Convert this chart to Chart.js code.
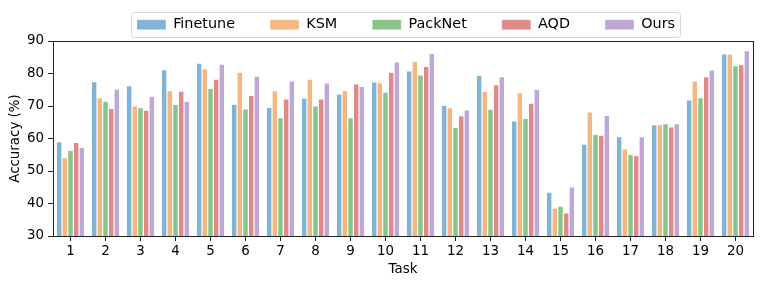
<!DOCTYPE html>
<html>
<head>
<meta charset="utf-8">
<script src="https://cdn.jsdelivr.net/npm/chart.js@4.4.1/dist/chart.umd.min.js"></script>
<style>
  html, body { margin: 0; padding: 0; background: #ffffff; }
  #wrap { width: 761px; height: 286px; position: relative; }
</style>
</head>
<body>
<div id="wrap"><canvas id="c" width="761" height="286"></canvas></div>
<script>
const tasks = ['1','2','3','4','5','6','7','8','9','10','11','12','13','14','15','16','17','18','19','20'];
const finetune = [59.0,77.5,76.3,81.2,83.2,70.6,69.6,72.4,73.7,77.4,80.8,70.2,79.5,65.4,43.5,58.3,60.6,64.3,71.9,86.0];
const ksm      = [54.1,72.6,70.0,74.8,81.5,80.4,74.7,78.3,74.8,77.2,83.7,69.5,74.5,74.1,38.6,68.2,56.8,64.3,77.7,86.0];
const packnet  = [56.4,71.5,69.5,70.5,75.5,69.1,66.4,70.0,66.4,74.3,79.6,63.4,69.0,66.2,39.2,61.3,55.1,64.6,72.6,82.4];
const aqd      = [58.8,69.3,68.7,74.6,78.3,73.3,72.2,72.2,76.8,80.4,82.2,67.0,76.6,70.9,37.1,61.0,54.7,63.6,79.0,82.7];
const ours     = [57.3,75.2,73.0,71.5,82.9,79.2,77.7,77.1,76.0,83.6,86.2,68.8,79.0,75.1,45.1,67.1,60.6,64.6,81.1,87.0];
const seriesNames = ['Finetune','KSM','PackNet','AQD','Ours'];
const seriesColors = ['rgba(31,119,180,0.56)','rgba(238,127,30,0.56)','rgba(44,150,44,0.56)','rgba(200,45,45,0.56)','rgba(140,100,185,0.56)'];
const yTicks = [30,40,50,60,70,80,90];

const FONT = 'DejaVu Sans';
const LEG_PAD = 35;
const LEG_CENTER_Y = 24.5;
const LEG_ITEM_H = 14;

const allSeries = [finetune, ksm, packnet, aqd, ours];

const legendPlace = {
  id: 'legendPlace',
  afterLayout(chart) {
    const lg = chart.legend;
    if (!lg || !lg.lineWidths) return;
    const itemsW = lg.lineWidths[0] - LEG_PAD;
    const cx = (chart.chartArea.left + chart.chartArea.right) / 2 + 3;
    const start = cx - itemsW / 2;
    lg.left = start - LEG_PAD;
    lg.right = lg.left + 3000;
    lg.top = LEG_CENTER_Y - LEG_ITEM_H / 2 - LEG_PAD;
  },
  beforeDraw(chart) {
    const lg = chart.legend;
    if (!lg || !lg.lineWidths) return;
    const ctx = chart.ctx;
    const start = lg.left + LEG_PAD;
    const end = start + lg.lineWidths[0] - LEG_PAD;
    const x0 = start - 6, x1 = end + 5, y0 = LEG_CENTER_Y - 12.5, y1 = LEG_CENTER_Y + 12.5;
    ctx.save();
    ctx.beginPath();
    ctx.roundRect(x0 + 0.5, y0 + 0.5, x1 - x0, y1 - y0, 3);
    ctx.fillStyle = 'rgba(255,255,255,0.8)';
    ctx.fill();
    ctx.strokeStyle = '#d6d6d6';
    ctx.lineWidth = 1;
    ctx.stroke();
    ctx.restore();
  },
  afterDraw(chart) {
    const a = chart.chartArea;
    const ctx = chart.ctx;
    ctx.save();
    ctx.strokeStyle = '#222222';
    ctx.lineWidth = 1;
    ctx.strokeRect(Math.round(a.left) + 0.5, Math.round(a.top) + 0.5, Math.round(a.right - a.left), Math.round(a.bottom - a.top));
    ctx.restore();
  }
};

new Chart(document.getElementById('c'), {
  type: 'bar',
  data: {
    labels: tasks,
    datasets: seriesNames.map((n, i) => ({
      label: n,
      data: allSeries[i],
      backgroundColor: seriesColors[i],
      borderColor: 'rgba(255,255,255,0.5)',
      borderWidth: 0.6,
      categoryPercentage: 0.81,
      barPercentage: 1.0
    }))
  },
  options: {
    responsive: false,
    animation: false,
    layout: { padding: { left: 0, right: 8, top: 0, bottom: 0 } },
    plugins: {
      tooltip: { enabled: false },
      legend: {
        position: 'top',
        align: 'start',
        maxHeight: 41,
        labels: {
          boxWidth: 29,
          boxHeight: 10,
          padding: LEG_PAD,
          color: '#000000',
          font: { family: FONT, size: 14.4 }
        }
      }
    },
    scales: {
      x: {
        afterFit(s) { s.height = 50; },
        grid: { display: true, drawOnChartArea: false, drawTicks: true, tickLength: 5, color: '#222222', offset: false },
        border: { display: true, color: '#222222', width: 1 },
        ticks: { color: '#000000', padding: 2, font: { family: FONT, size: 13.4 } },
        title: { display: true, text: 'Task', color: '#000000', font: { family: FONT, size: 13.4 }, padding: { top: 0, bottom: 8 } }
      },
      y: {
        min: 30,
        max: 90,
        afterFit(s) { s.width = 53; },
        afterBuildTicks(s) { s.ticks = yTicks.map(v => ({ value: v })); },
        grid: { display: true, drawOnChartArea: false, drawTicks: true, tickLength: 5, color: '#222222' },
        border: { display: true, color: '#222222', width: 1 },
        ticks: { color: '#000000', padding: 4, font: { family: FONT, size: 13.4 } },
        title: { display: true, text: 'Accuracy (%)', color: '#000000', font: { family: FONT, size: 13.4 }, padding: { top: 7, bottom: 0 } }
      }
    }
  },
  plugins: [legendPlace]
});
</script>
</body>
</html>
